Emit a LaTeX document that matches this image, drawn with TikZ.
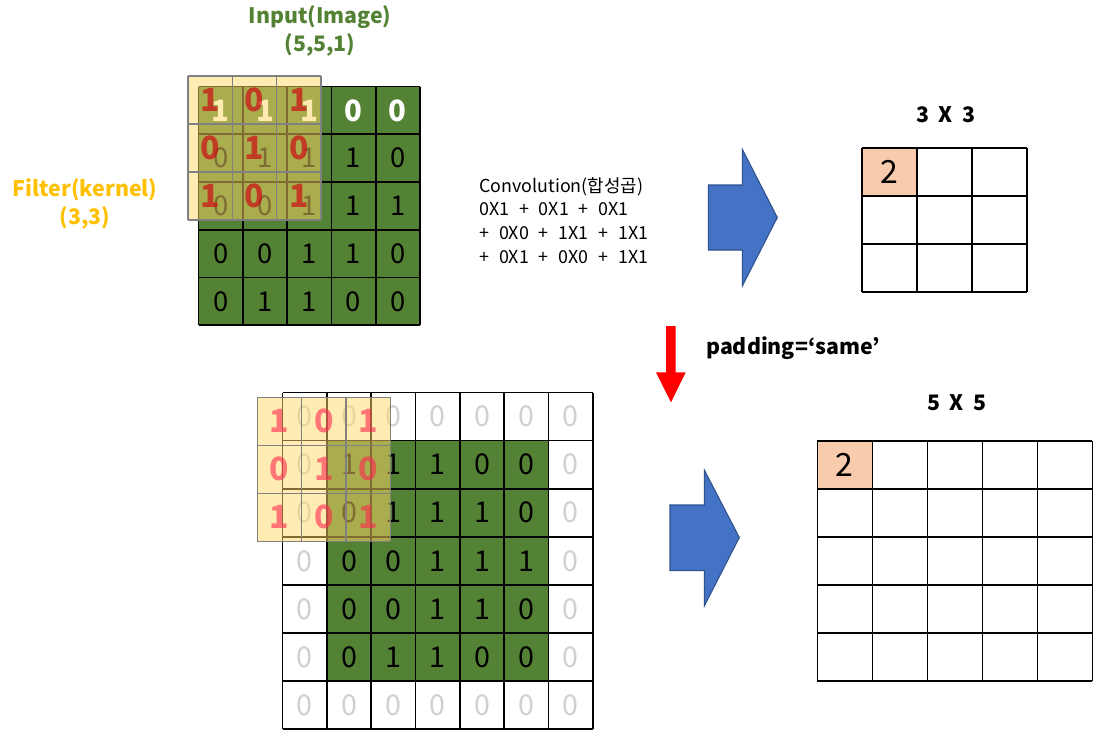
\documentclass[tikz,border=0pt]{standalone}
\usepackage{fontspec}
\setmainfont{Noto Sans CJK KR}
\definecolor{cgreen}{HTML}{548235}
\definecolor{cyellow}{HTML}{FFD966}
\definecolor{corange}{HTML}{FFC000}
\definecolor{cpeach}{HTML}{F8CBAD}
\definecolor{cblue}{HTML}{4472C4}
\definecolor{cblueb}{HTML}{2F528F}
\definecolor{cpad}{HTML}{D0D0D0}
\definecolor{cred}{HTML}{FF0000}
\definecolor{cdred}{HTML}{D00010}
\definecolor{cpred}{HTML}{FF2850}
\tikzset{
  gridline/.style={draw=black, line width=1.2pt},
  ovline/.style={draw=gray, line width=1.1pt},
  digit/.style={inner sep=0pt, font=\fontsize{20.5}{22}\selectfont},
  digitw/.style={inner sep=0pt, text=white, font=\bfseries\fontsize{22}{24}\selectfont},
  digitb/.style={inner sep=0pt, font=\fontsize{21.5}{24}\selectfont},
  digitpad/.style={digitb, text=cpad},
  reddigit/.style={inner sep=0pt, text=cdred, text opacity=0.65, font=\bfseries\fontsize{24}{26}\selectfont},
  pinkdigit/.style={reddigit, text=cpred, text opacity=0.6},
  outdigit/.style={inner sep=0pt, font=\fontsize{24}{26}\selectfont},
  title/.style={inner sep=0pt, align=center, font=\bfseries\fontsize{16}{21}\selectfont},
  heading/.style={inner sep=0pt, font=\bfseries\fontsize{16}{18}\selectfont},
  conv/.style={inner sep=0pt, align=left, anchor=west, font=\fontsize{13.4}{17.8}\selectfont},
  bluearrow/.style={fill=cblue, draw=cblueb, line width=0.8pt},
  redarrow/.style={fill=cred}
}
\newcommand{\pl}{\hspace{0.55em}+\hspace{0.55em}}
\newcommand{\gx}{\hspace{0.45em}X\hspace{0.45em}}
\begin{document}
\begin{tikzpicture}[x=0.75pt,y=-0.75pt]
\useasboundingbox (0,0) rectangle (1096,736);

% ---------- top input grid ----------
\fill[cgreen] (198.5,86.5) rectangle (420,325.25);
\foreach \i in {0,...,5} {
  \draw[gridline] (198.5+44.3*\i,86.5) -- (198.5+44.3*\i,325.25);
  \draw[gridline] (198.5,86.5+47.75*\i) -- (420,86.5+47.75*\i);
}
\foreach [count=\c from 0] \v in {1,1,1,0,0}
  \node[digitw] (t-0-\c) at (220.65+44.3*\c,110.4) {\v};
\foreach [count=\r from 1] \row in {{0,1,1,1,0},{0,0,1,1,1},{0,0,1,1,0},{0,1,1,0,0}}
  \foreach [count=\c from 0] \v in \row
    \node[digit] (t-\r-\c) at (220.65+44.3*\c,110.4+47.75*\r) {\v};

% top filter overlay
\fill[cyellow, fill opacity=0.5] (188,76) rectangle (321,220);
\foreach \i in {0,...,3} {
  \draw[ovline] (188+44.33*\i,76) -- (188+44.33*\i,220);
  \draw[ovline] (188,76+48*\i) -- (321,76+48*\i);
}
\foreach [count=\r from 0] \row in {{1,0,1},{0,1,0},{1,0,1}}
  \foreach [count=\c from 0] \v in \row
    \node[reddigit] (tf-\r-\c) at (210.2+44.33*\c,100+48*\r) {\v};

% titles
\node[title, text=cgreen] (inp) at (320,31) {Input(Image)\\(5,5,1)};
\node[title, text=corange] (filt) at (85,203.5) {Filter(kernel)\\(3,3)};

% convolution text
\node[conv] (convtxt) at (479,220.5) {Convolution(합성곱)\\0X1\pl 0X1\pl 0X1\\+\hspace{0.55em}0X0\pl 1X1\pl 1X1\\+\hspace{0.55em}0X1\pl 0X0\pl 1X1};

% blue arrows
\draw[bluearrow] (708.3,185) -- (742.3,185) -- (742.3,149.3) -- (777.3,217.5) -- (742.3,286) -- (742.3,250) -- (708.3,250) -- cycle;
\draw[bluearrow] (670,505) -- (704.3,505) -- (704.3,470) -- (739.3,537.5) -- (704.3,606) -- (704.3,570.7) -- (670,570.7) -- cycle;
% red arrow
\fill[redarrow] (666,326) -- (675.7,326) -- (675.7,372.3) -- (685.7,372.3) -- (671,402.3) -- (656,372.3) -- (666,372.3) -- cycle;

\node[heading, anchor=west] (pad) at (706,348) {padding=‘same’};

% ---------- output 3x3 ----------
\node[heading] (h3) at (945.7,115) {3\gx 3};
\fill[cpeach] (861.7,147.7) rectangle (916.7,195.7);
\foreach \i in {0,...,3} {
  \draw[gridline] (861.7+55*\i,147.7) -- (861.7+55*\i,291.7);
  \draw[gridline] (861.7,147.7+48*\i) -- (1026.7,147.7+48*\i);
}
\node[outdigit] (o3) at (889.2,171.7) {2};

% ---------- bottom padded grid ----------
\fill[cgreen] (326.9,440.6) rectangle (548.4,681.1);
\foreach \i in {0,...,7} {
  \draw[gridline] (282.6+44.3*\i,392.5) -- (282.6+44.3*\i,729.2);
  \draw[gridline] (282.6,392.5+48.1*\i) -- (592.7,392.5+48.1*\i);
}
\foreach [count=\r from 0] \row in {{0,0,0,0,0,0,0},{0,1,1,1,0,0,0},{0,0,1,1,1,0,0},{0,0,0,1,1,1,0},{0,0,0,1,1,0,0},{0,0,1,1,0,0,0},{0,0,0,0,0,0,0}}
  \foreach [count=\c from 0] \v in \row {
    \pgfmathtruncatemacro{\inside}{(\r>0)&&(\r<6)&&(\c>0)&&(\c<6)}
    \ifnum\inside=1
      \node[digitb] (b-\r-\c) at (304.75+44.3*\c,416.55+48.1*\r) {\v};
    \else
      \node[digitpad] (b-\r-\c) at (304.75+44.3*\c,416.55+48.1*\r) {\v};
    \fi
  }

% bottom filter overlay
\fill[cyellow, fill opacity=0.5] (257.3,397.3) rectangle (390.3,541.3);
\foreach \i in {0,...,3} {
  \draw[ovline] (257.3+44.33*\i,397.3) -- (257.3+44.33*\i,541.3);
  \draw[ovline] (257.3,397.3+48*\i) -- (390.3,397.3+48*\i);
}
\foreach [count=\r from 0] \row in {{1,0,1},{0,1,0},{1,0,1}}
  \foreach [count=\c from 0] \v in \row
    \node[pinkdigit] (bf-\r-\c) at (279.5+44.33*\c,421.3+48*\r) {\v};

% ---------- output 5x5 ----------
\node[heading] (h5) at (956.7,402.7) {5\gx 5};
\fill[cpeach] (817.3,441) rectangle (872.3,489);
\foreach \i in {0,...,5} {
  \draw[gridline] (817.3+55*\i,441) -- (817.3+55*\i,681);
  \draw[gridline] (817.3,441+48*\i) -- (1092.3,441+48*\i);
}
\node[outdigit] (o5) at (844.8,465) {2};
\end{tikzpicture}
\end{document}
